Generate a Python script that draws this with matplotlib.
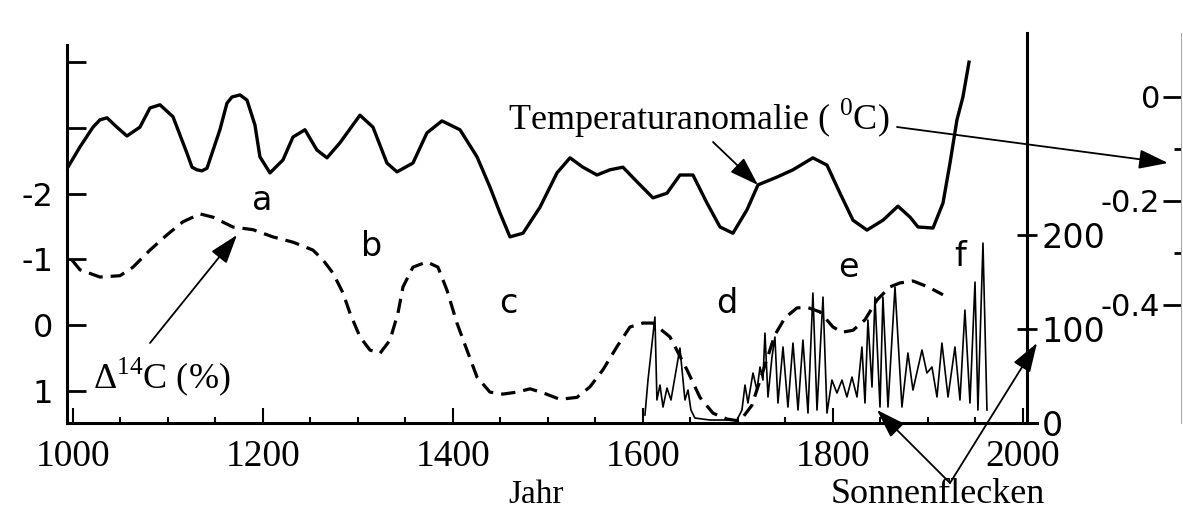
import matplotlib.pyplot as plt
from matplotlib.ticker import MultipleLocator, FixedLocator

plt.rcParams['mathtext.fontset'] = 'custom'
plt.rcParams['mathtext.rm'] = 'Liberation Serif'

# Temperaturanomalie (deg C), right outer scale
temp_year = [994.7, 1007.4, 1021.1, 1028.4, 1035.8, 1046.3, 1056.8, 1070.5, 1081.1, 1091.6,
             1105.3, 1120.0, 1125.3, 1130.5, 1135.8, 1141.1, 1154.7, 1162.1, 1167.4, 1175.8,
             1183.2, 1191.6, 1196.8, 1207.4, 1221.1, 1231.6,
             1244.2, 1256.8, 1267.4, 1281.1, 1302.1, 1315.8, 1330.5, 1341.1, 1357.9, 1372.6,
             1388.4, 1407.4, 1425.3, 1438.9, 1449.5, 1460.0, 1473.7, 1491.6, 1509.5, 1523.2,
             1536.8, 1551.6, 1565.3, 1578.9, 1593.7, 1610.5, 1625.3, 1638.9, 1652.6, 1667.4,
             1681.1, 1694.7, 1709.5, 1721.1, 1741.1, 1757.9, 1778.9, 1793.7, 1807.4, 1821.1,
             1835.8, 1852.6, 1868.4, 1881.1, 1889.5, 1905.3, 1915.8, 1923.2, 1930.5, 1936.8,
             1943.2]
temp_val = [-0.135, -0.096, -0.058, -0.044, -0.040, -0.058, -0.075, -0.058, -0.021, -0.015,
            -0.038, -0.108, -0.135, -0.140, -0.142, -0.137, -0.063, -0.012, 0.000, 0.004,
            -0.006, -0.054, -0.115, -0.146, -0.121, -0.077,
            -0.063, -0.102, -0.117, -0.088, -0.035, -0.058, -0.127, -0.144, -0.127, -0.069,
            -0.046, -0.063, -0.115, -0.173, -0.223, -0.269, -0.262, -0.212, -0.146, -0.117,
            -0.135, -0.150, -0.140, -0.135, -0.163, -0.194, -0.185, -0.150, -0.150, -0.204,
            -0.250, -0.262, -0.217, -0.169, -0.154, -0.140, -0.117, -0.131, -0.185, -0.237,
            -0.256, -0.237, -0.210, -0.231, -0.250, -0.252, -0.204, -0.127, -0.044, 0.000,
            0.067]

# Delta 14C (%), left scale (inverted)
c14_year = [998.9, 1007.4, 1028.4, 1049.5, 1063.2, 1081.1, 1098.9, 1115.8, 1133.7, 1147.4,
            1168.4, 1189.5, 1210.5, 1231.6, 1252.6, 1263.2, 1273.7, 1284.2, 1291.6, 1302.1,
            1312.6, 1323.2, 1333.7, 1342.1, 1347.4, 1357.9, 1372.6, 1384.2, 1393.7, 1404.2,
            1414.7, 1425.3, 1438.9, 1452.6, 1467.4, 1481.1, 1494.7, 1512.6, 1530.5, 1544.2,
            1557.9, 1572.6, 1586.3, 1600.0, 1610.5, 1628.4, 1646.3, 1660.0, 1673.7, 1688.4,
            1702.1, 1714.7, 1728.4, 1738.9, 1749.5, 1762.1, 1772.6, 1786.3, 1800.0, 1809.5,
            1821.1, 1833.7, 1846.3, 1860.0, 1870.5, 1884.2, 1900.0, 1915.8]
c14_val = [-0.99, -0.84, -0.73, -0.75, -0.88, -1.14, -1.37, -1.57, -1.69, -1.64,
           -1.49, -1.45, -1.34, -1.26, -1.14, -0.99, -0.79, -0.49, -0.18, 0.18,
           0.38, 0.43, 0.23, -0.18, -0.58, -0.88, -0.96, -0.88, -0.53, -0.03,
           0.38, 0.79, 1.02, 1.05, 1.02, 0.97, 1.03, 1.13, 1.10, 0.94,
           0.68, 0.33, 0.03, -0.03, -0.03, 0.18, 0.68, 1.10, 1.34, 1.43,
           1.46, 1.22, 0.61, 0.15, -0.11, -0.26, -0.27, -0.20, 0.03, 0.11,
           0.08, -0.08, -0.38, -0.58, -0.64, -0.67, -0.58, -0.46]

# Sonnenflecken, right inner scale
spot_year = [1602.1, 1605.3, 1612.6, 1614.7, 1617.9, 1621.1, 1625.3, 1629.5, 1638.9, 1644.2,
             1647.4, 1650.5, 1654.7, 1670.5, 1698.9, 1704.2, 1707.4, 1710.5, 1715.8, 1720.0,
             1723.2, 1726.3, 1728.4, 1731.6, 1735.8, 1738.9, 1742.1, 1747.4, 1752.6, 1757.9,
             1763.2, 1768.4, 1773.7, 1778.9, 1783.2, 1789.5, 1793.7, 1798.9, 1804.2, 1809.5,
             1814.7, 1820.0, 1825.3, 1830.5, 1833.7, 1836.8, 1841.1, 1844.2, 1849.5, 1852.6,
             1857.9, 1865.3, 1872.6, 1878.9, 1884.2, 1893.7, 1898.9, 1904.2, 1909.5, 1914.7,
             1921.1, 1928.4, 1933.7, 1938.9, 1944.2, 1949.5, 1952.6, 1957.9, 1962.1]
spot_val = [8.5, 45.7, 112.8, 24.5, 40.4, 17.0, 37.2, 24.5, 79.8, 24.5,
            35.1, 13.8, 5.3, 3.2, 3.2, 13.8, 40.4, 21.3, 53.2, 35.1,
            59.6, 45.7, 95.7, 27.7, 70.2, 91.5, 21.3, 80.9, 17.0, 85.1,
            13.8, 88.3, 10.6, 138.3, 13.8, 134.0, 10.6, 45.7, 31.9, 45.7,
            27.7, 48.9, 27.7, 80.9, 21.3, 109.6, 38.3, 134.0, 17.0, 134.0,
            17.0, 144.7, 17.0, 74.5, 35.1, 77.7, 53.2, 59.6, 27.7, 85.1,
            27.7, 80.9, 24.5, 120.2, 21.3, 150.0, 13.8, 191.5, 13.8]

year_ticks = [1000, 1200, 1400, 1600, 1800, 2000]
c14_ticks = [-4, -3, -2, -1, 0, 1]
c14_labels = ['', '', '-2', '-1', '0', '1']
spot_ticks = [0, 100, 200]
temp_ticks = [0, -0.2, -0.4]
temp_minor = [-0.1, -0.3]
temp_labels = ['0', '-0.2', '-0.4']

serif = 'Liberation Serif'
hand = 'DejaVu Sans'

fig = plt.figure(figsize=(11.83, 5.13), dpi=100)
ax = fig.add_axes([0.0566, 0.1754, 0.8115, 0.7602])

# left axis: Delta 14C
ax.plot(c14_year, c14_val, color='k', lw=2.3, dashes=(4.5, 2.5))
ax.set_xlim(993.7, 2004.2)
ax.set_ylim(1.49, -4.44)
ax.set_xticks(year_ticks)
ax.xaxis.set_minor_locator(MultipleLocator(50))
ax.set_yticks(c14_ticks)
ax.set_yticklabels(c14_labels, fontfamily=hand, fontsize=23)
ax.tick_params(axis='y', direction='in', length=14, width=2, pad=10)
ax.tick_params(axis='x', which='major', direction='in', length=11, width=1.5, pad=12, labelsize=27)
ax.tick_params(axis='x', which='minor', direction='in', length=4, width=1.5)
for lab in ax.get_xticklabels():
    lab.set_fontfamily(serif)
ax.spines['top'].set_visible(False)
ax.spines['right'].set_visible(False)
ax.spines['left'].set_linewidth(2.2)
ax.spines['bottom'].set_linewidth(2.2)
ax.spines['left'].set_bounds(1.49, -4.26)
ax.spines['bottom'].set_bounds(993.7, 2014.7)

# inner right axis: sunspots
ax2 = ax.twinx()
ax2.plot(spot_year, spot_val, color='k', lw=1.2)
ax2.set_ylim(0, 415)
ax2.set_yticks(spot_ticks)
ax2.set_yticklabels([str(v) for v in spot_ticks], fontfamily=hand, fontsize=24)
ax2.tick_params(axis='y', direction='inout', length=15, width=2, pad=3)
for s in ['top', 'bottom', 'left']:
    ax2.spines[s].set_visible(False)
ax2.spines['right'].set_linewidth(2.2)

# outer right axis: temperature
ax3 = ax.twinx()
ax3.plot(temp_year, temp_val, color='k', lw=2.4)
ax3.set_ylim(-0.627, 0.123)
for s in ['top', 'bottom', 'right']:
    ax3.spines[s].set_visible(False)
ax3.spines['left'].set_visible(True)
ax3.spines['left'].set_position(('axes', 1.1604))
ax3.spines['left'].set_linewidth(0.8)
ax3.spines['left'].set_color('#aaaaaa')
ax3.yaxis.set_ticks_position('left')
ax3.yaxis.set_label_position('left')
ax3.set_yticks(temp_ticks)
ax3.set_yticklabels(temp_labels, fontfamily=hand, fontsize=22)
ax3.yaxis.set_minor_locator(FixedLocator(temp_minor))
ax3.tick_params(axis='y', which='major', direction='out', length=13, width=2, pad=2)
ax3.tick_params(axis='y', which='minor', direction='out', length=5, width=2)

# letters
for txt, yr, v in [('a', 1198.9, -1.90), ('b', 1314.7, -1.19), ('c', 1457.9, -0.33),
                   ('d', 1688.4, -0.33), ('e', 1815.8, -0.88), ('f', 1933.7, -1.04)]:
    ax.text(yr, v, txt, fontfamily=hand, fontsize=24, ha='center', va='center')

# texts and arrows
H = 513
fig.text(508 / 1183, 1 - 130 / H, 'Temperaturanomalie ( $^{0}$C)', fontfamily=serif,
         fontsize=26, ha='left', va='baseline')
fig.text(93 / 1183, 1 - 388 / H, 'Δ$^{14}$C (%)', fontfamily=serif,
         fontsize=26, ha='left', va='baseline')
fig.text(536 / 1183, 1 - 503 / H, 'Jahr', fontfamily=serif, fontsize=24,
         ha='center', va='baseline')
fig.text(938 / 1183, 1 - 503 / H, 'Sonnenflecken', fontfamily=serif, fontsize=26,
         ha='center', va='baseline')

arrows = [((150, 343), (237, 235)), ((713, 142), (758, 185)), ((897, 127), (1168, 163)),
          ((950, 483), (877, 410)), ((950, 483), (1037, 343))]
for (x0, y0), (x1, y1) in arrows:
    ax.annotate('', xy=(x1, H - y1), xycoords='figure pixels',
                xytext=(x0, H - y0), textcoords='figure pixels',
                arrowprops=dict(arrowstyle='-|>,head_length=0.6,head_width=0.2',
                                mutation_scale=30, lw=1.3, color='k',
                                shrinkA=0, shrinkB=0))

fig.savefig('out.png', dpi=100)
